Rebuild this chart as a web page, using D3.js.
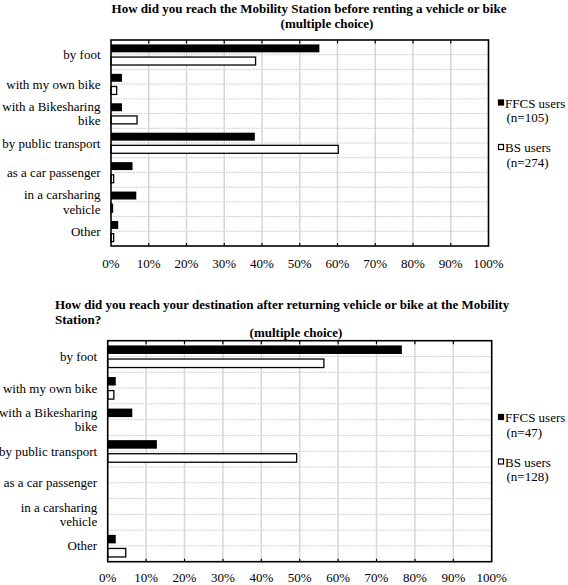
<!DOCTYPE html>
<html>
<head>
<meta charset="utf-8">
<script src="https://cdn.jsdelivr.net/npm/d3@7"></script>
<style>
  html, body { margin: 0; padding: 0; background: #fff; }
  svg { display: block; }
</style>
</head>
<body>
<svg id="chart" width="568" height="585" font-family="'Liberation Serif', 'DejaVu Serif', serif"></svg>
<script>
// ---------- data ----------
const categories = ["by foot", "with my own bike", "with a Bikesharing bike", "by public transport",
                    "as a car passenger", "in a carsharing vehicle", "Other"];
const categoryLines = [["by foot"], ["with my own bike"], ["with a Bikesharing", "bike"], ["by public transport"],
                       ["as a car passenger"], ["in a carsharing", "vehicle"], ["Other"]];
const arrivalFFCS = [55.2, 2.9, 2.9, 38.1, 5.7, 6.7, 1.9];
const arrivalBS   = [38.3, 1.5, 6.9, 60.2, 0.7, 0.4, 0.7];
const departFFCS  = [76.6, 2.1, 6.4, 12.8, 0, 0, 2.1];
const departBS    = [56.3, 1.6, 0, 49.2, 0, 0, 4.7];
const tickValues  = [0, 10, 20, 30, 40, 50, 60, 70, 80, 90, 100];
const seriesNames = ["FFCS users", "BS users"];
const arrivalN    = ["(n=105)", "(n=274)"];
const departN     = ["(n=47)", "(n=128)"];

const FONT = "'Liberation Serif', 'DejaVu Serif', serif";
const svg = d3.select("#chart");
svg.append("rect").attr("width", 568).attr("height", 585).attr("fill", "#fff");

function txt(sel) { return sel.append("text").attr("font-family", FONT).attr("fill", "#000"); }

function panel(cfg) {
  const g = svg.append("g");
  const x = d3.scaleLinear().domain([0, 100]).range([cfg.left, cfg.right]);
  const y = d3.scaleBand().domain(categories).range([cfg.top, cfg.bottom]).paddingInner(0).paddingOuter(0);
  const bw = y.bandwidth();

  const hLines = d3.range(1, categories.length * 2).map(i => cfg.top + i * bw / 2);
  g.selectAll(".hg").data(hLines).join("line")
    .attr("x1", cfg.left).attr("x2", cfg.right)
    .attr("y1", d => d).attr("y2", d => d)
    .attr("stroke", "#c8c8c8").attr("stroke-width", 1).attr("stroke-dasharray", "1.5,1");

  g.selectAll(".vg").data(tickValues.slice(1, -1)).join("line")
    .attr("x1", d => x(d)).attr("x2", d => x(d))
    .attr("y1", cfg.top).attr("y2", cfg.bottom)
    .attr("stroke", "#d6d6d6").attr("stroke-width", 1.5);

  g.selectAll(".tt").data(tickValues.slice(1, -1)).join("line")
    .attr("x1", d => x(d)).attr("x2", d => x(d))
    .attr("y1", cfg.top).attr("y2", cfg.top + 3.5)
    .attr("stroke", "#000").attr("stroke-width", 1.2);
  g.selectAll(".tb").data(tickValues.slice(1, -1)).join("line")
    .attr("x1", d => x(d)).attr("x2", d => x(d))
    .attr("y1", cfg.bottom).attr("y2", cfg.bottom - 3)
    .attr("stroke", "#000").attr("stroke-width", 1.2);

  const off = 0.215 * bw, bh = 0.27 * bw;
  g.selectAll(".bf").data(cfg.ffcs).join("rect")
    .attr("x", x(0))
    .attr("y", (d, i) => y(categories[i]) + bw / 2 - off - bh / 2)
    .attr("width", d => Math.max(0, x(d) - x(0)))
    .attr("height", bh)
    .attr("fill", "#000")
    .attr("display", d => d > 0 ? null : "none");
  g.selectAll(".bb").data(cfg.bs).join("rect")
    .attr("x", x(0))
    .attr("y", (d, i) => y(categories[i]) + bw / 2 + off - bh / 2)
    .attr("width", d => Math.max(0, x(d) - x(0)))
    .attr("height", bh)
    .attr("fill", "#fff").attr("stroke", "#000").attr("stroke-width", 1.3)
    .attr("display", d => d > 0 ? null : "none");

  g.append("rect").attr("x", cfg.left).attr("y", cfg.top)
    .attr("width", cfg.right - cfg.left).attr("height", cfg.bottom - cfg.top)
    .attr("fill", "none").attr("stroke", "#000").attr("stroke-width", 1.6);

  g.selectAll(".xl").data(tickValues).join("text")
    .attr("font-family", FONT)
    .attr("x", d => x(d)).attr("y", cfg.bottom + cfg.tickDy)
    .attr("text-anchor", "middle").attr("font-size", 13)
    .text(d => d + "%");

  categoryLines.forEach((lines, i) => {
    const cy = y(categories[i]) + bw / 2;
    const t = txt(g).attr("text-anchor", "end").attr("font-size", 13);
    lines.forEach((ln, j) => {
      t.append("tspan")
        .attr("x", cfg.left - 10.5)
        .attr("y", cy + 4.5 + (j - (lines.length - 1) / 2) * 14.5)
        .text(ln);
    });
  });

  const lg = g.append("g");
  const items = [
    { name: seriesNames[0], n: cfg.n[0], fill: "#000" },
    { name: seriesNames[1], n: cfg.n[1], fill: "#fff" }
  ];
  items.forEach((it, i) => {
    const ly = cfg.legendY + i * 44.5;
    lg.append("rect").attr("x", 498.5).attr("y", ly - 7.5).attr("width", 5).attr("height", 5)
      .attr("fill", it.fill).attr("stroke", "#000").attr("stroke-width", 1.2);
    txt(lg).attr("x", 505).attr("y", ly).attr("font-size", 13).text(it.name);
    txt(lg).attr("x", 506.5).attr("y", ly + 14.5).attr("font-size", 13).text(it.n);
  });
}

txt(svg).attr("x", 309).attr("y", 12.5).attr("text-anchor", "middle")
  .attr("font-size", 13).attr("font-weight", "bold")
  .text("How did you reach the Mobility Station before renting a vehicle or bike");
txt(svg).attr("x", 327).attr("y", 27.5).attr("text-anchor", "middle")
  .attr("font-size", 13).attr("font-weight", "bold")
  .text("(multiple choice)");

txt(svg).attr("x", 55).attr("y", 309).attr("text-anchor", "start")
  .attr("font-size", 13).attr("font-weight", "bold")
  .text("How did you reach your destination after returning vehicle or bike at the Mobility");
txt(svg).attr("x", 55).attr("y", 324).attr("text-anchor", "start")
  .attr("font-size", 13).attr("font-weight", "bold")
  .text("Station?");
txt(svg).attr("x", 296).attr("y", 337).attr("text-anchor", "middle")
  .attr("font-size", 13).attr("font-weight", "bold")
  .text("(multiple choice)");

panel({ left: 111, right: 488.5, top: 40, bottom: 246, tickDy: 22,
        ffcs: arrivalFFCS, bs: arrivalBS, n: arrivalN, legendY: 107.5 });
panel({ left: 107.7, right: 491.7, top: 340.7, bottom: 561.7, tickDy: 20.5,
        ffcs: departFFCS, bs: departBS, n: departN, legendY: 422 });
</script>
</body>
</html>
